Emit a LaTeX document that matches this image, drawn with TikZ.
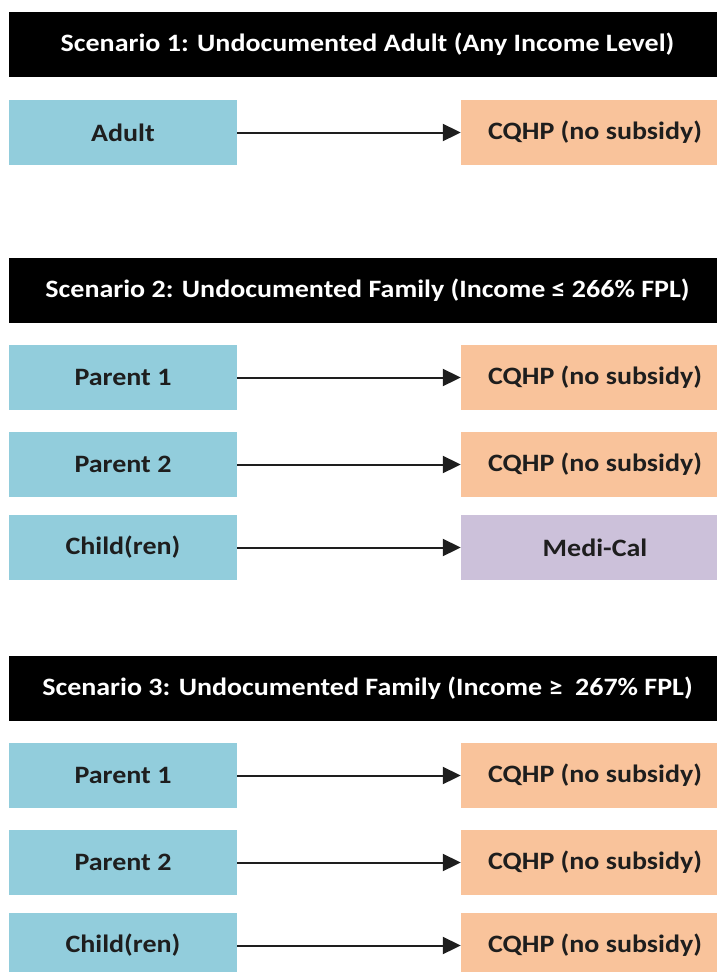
\documentclass[tikz,border=0pt]{standalone}
\usepackage{fontspec}
\setmainfont{Carlito}[FakeStretch=1.12]
\usetikzlibrary{arrows.meta}
\definecolor{hdr}{HTML}{000000}
\definecolor{bluebox}{HTML}{92CDDC}
\definecolor{orangebox}{HTML}{F9C39B}
\definecolor{purplebox}{HTML}{CCC1DA}
\definecolor{txt}{HTML}{1E1E1E}
\definecolor{arr}{HTML}{1E1E1E}
\tikzset{
  base/.style={rectangle, inner sep=0pt, minimum height=65pt, font=\fontsize{25}{27}\selectfont\bfseries, text=txt},
  header/.style={base, fill=hdr, text=white, minimum width=717pt},
  leftbox/.style={base, fill=bluebox, minimum width=228pt},
  planbox/.style={base, fill=orangebox, minimum width=268pt},
  medibox/.style={base, fill=purplebox, minimum width=268pt},
  link/.style={draw=arr, line width=2pt, -{Triangle[length=18pt,width=17pt]}}
}
\begin{document}
\begin{tikzpicture}[x=1pt,y=-1pt]
\useasboundingbox (0,0) rectangle (717,972);
% Scenario 1
\node[header] (h1) at (367.5,44.5) {Scenario 1: Undocumented Adult (Any Income Level)};
\node[leftbox] (a1) at (123,132.5) {Adult};
\node[planbox] (b1) at (595,132.5) {CQHP (no subsidy)};
\draw[link] (a1) -- (b1);
% Scenario 2
\node[header] (h2) at (367.5,290) {Scenario 2: Undocumented Family (Income ≤ 266\% FPL)};
\node[leftbox] (p21) at (123,377.5) {Parent 1};
\node[planbox] (q21) at (595,377.5) {CQHP (no subsidy)};
\node[leftbox] (p22) at (123,464.5) {Parent 2};
\node[planbox] (q22) at (595,464.5) {CQHP (no subsidy)};
\node[leftbox] (p23) at (123,547.5) {Child(ren)};
\node[medibox] (q23) at (595,547.5) {Medi-Cal};
\draw[link] (p21) -- (q21);
\draw[link] (p22) -- (q22);
\draw[link] (p23) -- (q23);
% Scenario 3
\node[header] (h3) at (367.5,688) {Scenario 3: Undocumented Family (Income ≥\ \ 267\% FPL)};
\node[leftbox] (p31) at (123,775.5) {Parent 1};
\node[planbox] (q31) at (595,775.5) {CQHP (no subsidy)};
\node[leftbox] (p32) at (123,862.5) {Parent 2};
\node[planbox] (q32) at (595,862.5) {CQHP (no subsidy)};
\node[leftbox] (p33) at (123,945.5) {Child(ren)};
\node[planbox] (q33) at (595,945.5) {CQHP (no subsidy)};
\draw[link] (p31) -- (q31);
\draw[link] (p32) -- (q32);
\draw[link] (p33) -- (q33);
\end{tikzpicture}
\end{document}
